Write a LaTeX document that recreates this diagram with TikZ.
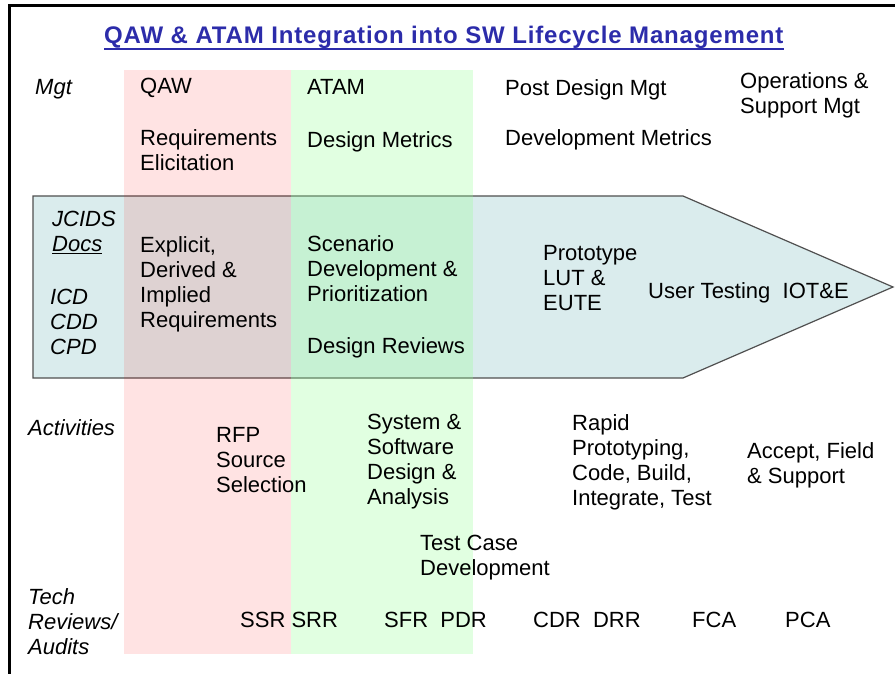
\documentclass[tikz,border=0pt]{standalone}
\usepackage{fontspec}
\setmainfont{Liberation Sans}
\usepackage{tikz}
\usetikzlibrary{calc}
\definecolor{titleblue}{RGB}{44,44,170}
\definecolor{arrowfill}{RGB}{218,236,237}
\definecolor{arrowline}{RGB}{80,80,80}
\definecolor{qawpink}{RGB}{255,0,0}
\definecolor{atamgreen}{RGB}{150,255,150}
\tikzset{
	lbl/.style={anchor=north west, inner sep=0pt, align=left, font=\fontsize{22}{25}\selectfont},
	rowlbl/.style={lbl, font=\fontsize{22}{25}\selectfont\itshape},
	band/.style={draw=none}
}

\begin{document}
\begin{tikzpicture}[x=1pt, y=-1pt]
			%%%%% START %%%%%
			\useasboundingbox (0,0) rectangle (895,674);
			
			% frame
			\draw[line width=3pt] (9,674) -- (9,6) -- (895,6);
			
			% title
			\node[anchor=base west, inner sep=0pt, font=\fontsize{24}{28}\selectfont\bfseries\addfontfeature{LetterSpace=3.5}, text=titleblue] (title) at (104,44) {QAW \& ATAM Integration into SW Lifecycle Management};
			\draw[titleblue, line width=2pt] ([yshift=-5pt]title.base west) -- ([yshift=-5pt]title.base east);
			
			% lifecycle arrow
			\draw[fill=arrowfill, draw=arrowline, line width=1.2pt] (33,196) -- (683,196) -- (893,287) -- (683,378) -- (33,378) -- cycle;
			
			% QAW and ATAM bands
			\fill[band, fill=qawpink, fill opacity=0.11] (124,70) rectangle (291,654);
			\fill[band, fill=atamgreen, fill opacity=0.29] (291,70) rectangle (473,654);
			
			% Mgt row
			\node[rowlbl] (mgt) at (35,79) {Mgt};
			\node[lbl] (qaw) at (140,78) {QAW};
			\node[lbl] (atam) at (307,79) {ATAM};
			\node[lbl] (postdes) at (505,79) {Post Design Mgt};
			\node[lbl] (opsup) at (740,72) {Operations \&\\Support Mgt};
			\node[lbl] (reqelic) at (140,129) {Requirements\\Elicitation};
			\node[lbl] (desmet) at (307,131) {Design Metrics};
			\node[lbl] (devmet) at (505,129) {Development Metrics};
			
			% inside the arrow
			\node[rowlbl] (jcids) at (52,211) {JCIDS\\\underline{Docs}};
			\node[rowlbl] (icd) at (50,289) {ICD\\CDD\\CPD};
			\node[lbl] (explicit) at (140,236) {Explicit,\\Derived \&\\Implied\\Requirements};
			\node[lbl] (scenario) at (307,235) {Scenario\\Development \&\\Prioritization};
			\node[lbl] (desrev) at (307,337) {Design Reviews};
			\node[lbl] (proto) at (543,245) {Prototype\\LUT \&\\EUTE};
			\node[lbl] (usertest) at (648,282) {User Testing\ \ IOT\&E};
			
			% Activities row
			\node[rowlbl] (activ) at (28,419) {Activities};
			\node[lbl] (rfp) at (216,427) {RFP\\Source\\Selection};
			\node[lbl] (sysdes) at (367,414) {System \&\\Software\\Design \&\\Analysis};
			\node[lbl] (rapid) at (572,414) {Rapid\\Prototyping,\\Code, Build,\\Integrate, Test};
			\node[lbl] (accept) at (747,442) {Accept, Field\\\& Support};
			\node[lbl] (testcase) at (420,535) {Test Case\\Development};
			
			% Tech Reviews row
			\node[rowlbl] (tech) at (28,588) {Tech\\Reviews/\\Audits};
			\node[lbl] (ssr) at (240,612) {SSR SRR};
			\node[lbl] (sfr) at (384,612) {SFR\ \ PDR};
			\node[lbl] (cdr) at (533,612) {CDR\ \ DRR};
			\node[lbl] (fca) at (692,612) {FCA};
			\node[lbl] (pca) at (785,612) {PCA};
			
			%%%%% END %%%%%
\end{tikzpicture}
\end{document}
